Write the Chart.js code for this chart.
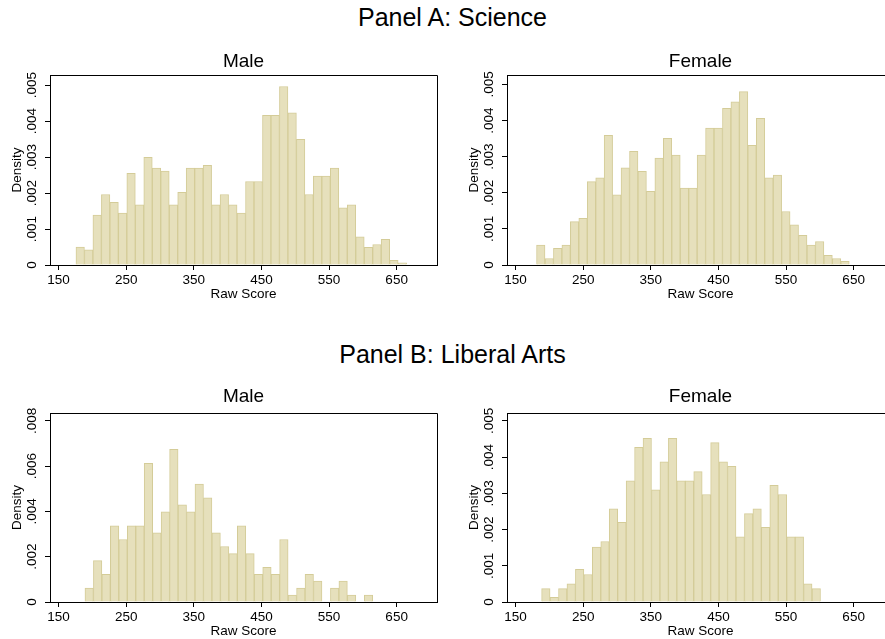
<!DOCTYPE html>
<html>
<head>
<meta charset="utf-8">
<script src="https://cdn.jsdelivr.net/npm/chart.js@4.4.1/dist/chart.umd.min.js"></script>
<style>
  html, body { margin: 0; padding: 0; background: #fff; }
  body { width: 885px; height: 639px; overflow: hidden; position: relative;
         font-family: "Liberation Sans", Arial, sans-serif; }
  .panel-title { position: absolute; left: 0; width: 905px; text-align: center;
                 font-size: 25px; line-height: 25px; color: #000; white-space: nowrap; }
  canvas { position: absolute; }
</style>
</head>
<body>
<div class="panel-title" style="top:5px">Panel A: Science</div>
<canvas id="sciMale" width="445" height="262" style="left:0;top:40px"></canvas>
<canvas id="sciFemale" width="445" height="262" style="left:457px;top:40px"></canvas>
<div class="panel-title" style="top:342px">Panel B: Liberal Arts</div>
<canvas id="libMale" width="445" height="261" style="left:0;top:378px"></canvas>
<canvas id="libFemale" width="445" height="261" style="left:457px;top:378px"></canvas>

<script>
// ---- Histogram data: bin start, bin width and density per bin ----
const sciMaleStart = 175.7, sciMaleWidth = 12.54;
const sciMaleDensity = [
  .00050, .00042, .00139, .00196, .00174, .00144, .00255, .00167, .00299, .00269,
  .00261, .00167, .00202, .00269, .00269, .00277, .00167, .00196, .00167, .00144,
  .00232, .00232, .00416, .00416, .00496, .00423, .00349, .00196, .00247, .00247,
  .00269, .00159, .00167, .00078, .00049, .00057, .00071, .00013, .00006
];

const sciFemaleStart = 181.0, sciFemaleWidth = 12.5;
const sciFemaleDensity = [
  .00055, .00018, .00046, .00055, .00120, .00129, .00231, .00241, .00359, .00194,
  .00269, .00315, .00259, .00204, .00296, .00351, .00304, .00213, .00213, .00304,
  .00379, .00379, .00434, .00452, .00480, .00331, .00406, .00241, .00249, .00148,
  .00111, .00082, .00055, .00065, .00027, .00018, .00010
];

const libMaleStart = 189.0, libMaleWidth = 12.52;
const libMaleDensity = [
  .00061, .00183, .00122, .00337, .00276, .00337, .00337, .00613, .00306, .00398,
  .00674, .00429, .00398, .00521, .00460, .00306, .00245, .00214, .00337, .00214,
  .00122, .00153, .00122, .00276, .00031, .00061, .00122, .00092, 0, .00061,
  .00092, .00031, 0, .00031
];

const libFemaleStart = 188.5, libFemaleWidth = 12.5;
const libFemaleDensity = [
  .00037, .00013, .00037, .00050, .00090, .00076, .00152, .00167, .00257, .00220,
  .00335, .00427, .00452, .00310, .00387, .00452, .00335, .00335, .00360, .00297,
  .00440, .00387, .00375, .00180, .00244, .00257, .00206, .00322, .00297, .00180,
  .00180, .00050, .00037
];

// ---- Axis ticks ----
const xTickValues = [150, 250, 350, 450, 550, 650];
const xTickLabels = ['150', '250', '350', '450', '550', '650'];
const yTickValues5 = [0, .001, .002, .003, .004, .005];
const yTickLabels5 = ['0', '.001', '.002', '.003', '.004', '.005'];
const yTickValues8 = [0, .002, .004, .006, .008];
const yTickLabels8 = ['0', '.002', '.004', '.006', '.008'];

// ---- Styling ----
const FONT = '"Liberation Sans", Arial, sans-serif';
const BAR_FILL = 'rgb(230, 224, 188)';
const BAR_EDGE = 'rgb(212, 204, 152)';
const INK = '#000';

Chart.defaults.font.family = FONT;
Chart.defaults.color = INK;

// Outline around the whole plot region (top and right sides included)
const plotFrame = {
  id: 'plotFrame',
  afterDraw(chart) {
    const { ctx, chartArea: a } = chart;
    const al = p => Math.round(p - 0.5) + 0.5;
    ctx.save();
    ctx.strokeStyle = INK;
    ctx.lineWidth = 1;
    ctx.beginPath();
    ctx.rect(al(a.left), al(a.top), al(a.right) - al(a.left), al(a.bottom) - al(a.top));
    ctx.stroke();
    ctx.restore();
  }
};

function binPoints(start, width, density) {
  return density.map((d, i) => ({ x: start + width * (i + 0.5), y: d }));
}

function histogram(id, title, start, width, density, yMax, yTicks, yLabels, titlePad) {
  const axisLines = { display: true, color: INK, width: 1 };
  const tickMarks = { display: true, drawOnChartArea: false, drawTicks: true,
                      tickLength: 5, tickColor: INK, offset: false };
  return new Chart(document.getElementById(id), {
    type: 'bar',
    data: {
      datasets: [{
        data: binPoints(start, width, density),
        backgroundColor: BAR_FILL,
        borderColor: BAR_EDGE,
        borderWidth: 1,
        barPercentage: 1,
        categoryPercentage: 1
      }]
    },
    options: {
      responsive: false,
      animation: false,
      devicePixelRatio: 1,
      layout: { padding: { left: 0, right: 8, top: 0, bottom: 0 } },
      plugins: {
        legend: { display: false },
        tooltip: { enabled: false },
        title: {
          display: true, text: title, fullSize: false, color: INK,
          font: { size: 19, weight: 'normal' },
          padding: titlePad
        }
      },
      scales: {
        x: {
          type: 'linear', min: 137.3, max: 709.7, offset: false,
          afterBuildTicks: s => { s.ticks = xTickValues.map(v => ({ value: v })); },
          afterFit: s => { s.height = 37; },
          grid: tickMarks,
          border: axisLines,
          ticks: { autoSkip: false, maxRotation: 0, padding: 2, color: INK,
                   font: { size: 13.5 }, callback: (v, i) => xTickLabels[i] },
          title: { display: true, text: 'Raw Score', color: INK,
                   font: { size: 13.5 }, padding: { top: 0, bottom: 0 } }
        },
        y: {
          type: 'linear', min: 0, max: yMax,
          afterBuildTicks: s => { s.ticks = yTicks.map(v => ({ value: v })); },
          afterFit: s => { s.width = 50; },
          grid: tickMarks,
          border: axisLines,
          ticks: { autoSkip: false, minRotation: 90, maxRotation: 90,
                   crossAlign: 'center', padding: 0, color: INK,
                   font: { size: 13.5 }, callback: (v, i) => yLabels[i] },
          title: { display: true, text: 'Density', color: INK,
                   font: { size: 13.5 }, padding: { top: 9.5, bottom: 0 } }
        }
      }
    },
    plugins: [plotFrame]
  });
}

histogram('sciMale', 'Male', sciMaleStart, sciMaleWidth, sciMaleDensity,
          0.00528, yTickValues5, yTickLabels5, { top: 10, bottom: 2.2 });
histogram('sciFemale', 'Female', sciFemaleStart, sciFemaleWidth, sciFemaleDensity,
          0.00526, yTickValues5, yTickLabels5, { top: 10, bottom: 2.2 });
histogram('libMale', 'Male', libMaleStart, libMaleWidth, libMaleDensity,
          0.00835, yTickValues8, yTickLabels8, { top: 7.6, bottom: 4.6 });
histogram('libFemale', 'Female', libFemaleStart, libFemaleWidth, libFemaleDensity,
          0.00522, yTickValues5, yTickLabels5, { top: 7.6, bottom: 4.6 });
</script>
</body>
</html>
